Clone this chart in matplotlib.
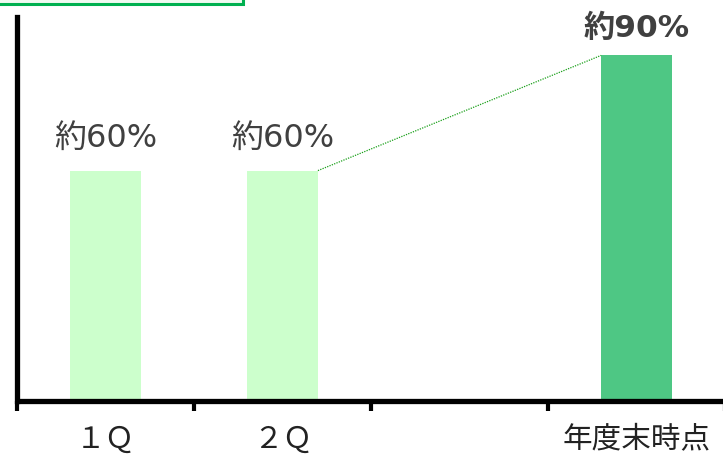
import matplotlib.pyplot as plt
from matplotlib.patches import Rectangle

plt.rcParams['font.family'] = ['DejaVu Sans', 'Noto Sans CJK JP']

# data
categories = ['１Ｑ', '２Ｑ', '', '年度末時点']
positions = [0, 1, 3]
values = [60, 60, 90]
value_labels = ['約60%', '約60%', '約90%']
bar_colors = ['#ccffcc', '#ccffcc', '#4ec784']

fig = plt.figure(figsize=(7.23, 4.54), dpi=100)
ax = fig.add_axes([17 / 723, 53 / 454, 708 / 723, 384 / 454])

bar_w = 0.4
ax.bar(positions, values, width=bar_w, color=bar_colors, zorder=1)

# dotted connector from 2Q to year end
ax.plot([positions[1] + bar_w / 2, positions[2] - bar_w / 2],
        [values[1], values[2]], linestyle=(0, (1, 1)), color='#1aa01a',
        linewidth=0.9, zorder=2)

# value labels (baseline placed above each bar)
for x, v, lab in zip(positions, values, value_labels):
    bold = v == max(values)
    ax.text(x, v + (4.8 if bold else 6.1), lab, ha='center', va='baseline',
            fontsize=22.5 if bold else 23, color='#404040',
            fontweight='bold' if bold else 'normal')

ax.set_xlim(-0.5, 3.5)
ax.set_ylim(0, 100)

# category ticks sit between slots, labels at slot centers
ax.set_xticks([-0.5, 0.5, 1.5, 2.5, 3.5])
ax.set_xticklabels([])
ax.tick_params(axis='x', direction='out', length=7, width=3, color='black')
ax.set_yticks([])
for i, c in enumerate(categories):
    ax.text(i, -9.9, c, ha='center', va='center', fontsize=21.3,
            color='#222222', family=['Noto Sans CJK JP'])

for s in ['top', 'right']:
    ax.spines[s].set_visible(False)
for s in ['left', 'bottom']:
    ax.spines[s].set_linewidth(3.8)
    ax.spines[s].set_color('black')
ax.spines['bottom'].set_capstyle('butt')

# green title box at the top, mostly cut off
fig.patches.append(Rectangle((-5 / 723, 450 / 454), 248 / 723, 20 / 454,
                             transform=fig.transFigure, facecolor='#f0faf1',
                             edgecolor='#00b050', linewidth=2.2))

fig.savefig('out.png', dpi=100)
